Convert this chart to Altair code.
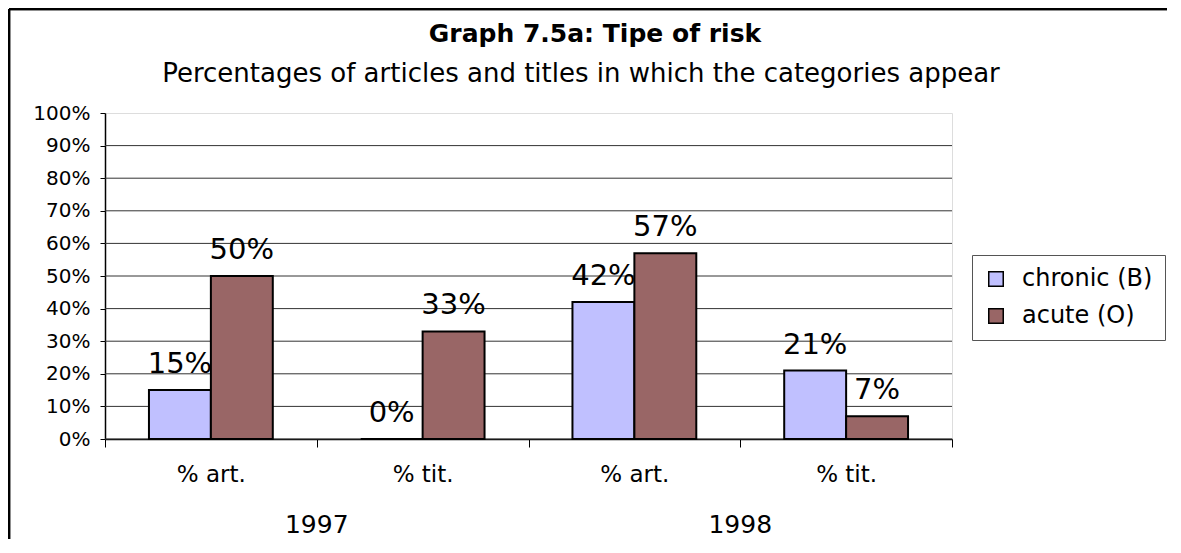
import altair as alt
import pandas as pd

# ---- data ----
categories = ["% art.", "% tit.", "% art.", "% tit."]
years = ["1997", "1997", "1998", "1998"]
chronic = [15, 0, 42, 21]
acute = [50, 33, 57, 7]
series = ["chronic (B)", "acute (O)"]
colors = ["#C0C0FF", "#996666"]
year_labels = ["1997", "1998"]
y_ticks = list(range(0, 101, 10))
title_text = "Graph 7.5a: Tipe of risk"
subtitle_text = "Percentages of articles and titles in which the categories appear"

keys = [f"{y}|{c}" for y, c in zip(years, categories)]
rows = []
for k, c, a in zip(keys, chronic, acute):
    rows.append({"key": k, "series": series[0], "value": c})
    rows.append({"key": k, "series": series[1], "value": a})
df = pd.DataFrame(rows)
df["label"] = df["value"].astype(str) + "%"

# year label sits on the boundary between the two categories of a year
year_df = pd.DataFrame({
    "key": [keys[1], keys[3]],
    "year": year_labels,
})
title_df = pd.DataFrame({"t": [title_text]})
subtitle_df = pd.DataFrame({"t": [subtitle_text]})
grid_df = pd.DataFrame({"v": y_ticks})

FONT = "DejaVu Sans"
W, H = 847, 326

xscale = alt.Scale(domain=keys, paddingInner=0, paddingOuter=0)
yscale = alt.Scale(domain=[0, 100], nice=False)
offscale = alt.Scale(domain=series, paddingInner=0, paddingOuter=0.71)

x_axis = alt.Axis(labelExpr="split(datum.label, '|')[1]",
                  tickBand="extent", tickSize=8, tickColor="black",
                  domainColor="black", domainWidth=1.5,
                  labelFont=FONT, labelFontSize=23, labelColor="black",
                  labelPadding=16, labelAngle=0, grid=False, title=None)
y_axis = alt.Axis(values=y_ticks, labelOverlap=False,
                  labelExpr="datum.value + '%'",
                  labelFont=FONT, labelFontSize=20, labelColor="black",
                  tickSize=5, tickColor="black", domainColor="black",
                  domainWidth=1.5, labelPadding=10, title=None,
                  grid=False)

# horizontal gridlines drawn from the tick values (top one is the grey frame)
grid = alt.Chart(grid_df).transform_filter("datum.v < 100").mark_rule(
    color="#333333", strokeWidth=1).encode(
    y=alt.Y("v:Q", scale=yscale, axis=y_axis))

base = alt.Chart(df)

bars = base.mark_bar(stroke="black", strokeWidth=2).encode(
    x=alt.X("key:N", scale=xscale, sort=keys, axis=x_axis),
    xOffset=alt.XOffset("series:N", scale=offscale, sort=series),
    y=alt.Y("value:Q", scale=yscale, axis=y_axis),
    color=alt.Color("series:N", sort=series,
                    scale=alt.Scale(domain=series, range=colors),
                    legend=alt.Legend(title=None, orient="none",
                                      legendX=867, legendY=142,
                                      labelFont=FONT, labelFontSize=24,
                                      labelColor="black",
                                      symbolType="square", symbolSize=210,
                                      symbolStrokeColor="black",
                                      symbolStrokeWidth=1.5,
                                      symbolOpacity=1,
                                      labelOffset=14, rowPadding=13,
                                      padding=12, strokeColor="#555555",
                                      fillColor="white")),
)

labels = base.mark_text(font=FONT, fontSize=29, color="black",
                        baseline="alphabetic", dy=-17).encode(
    x=alt.X("key:N", scale=xscale, sort=keys, axis=x_axis),
    xOffset=alt.XOffset("series:N", scale=offscale, sort=series),
    y=alt.Y("value:Q", scale=yscale, axis=y_axis),
    text="label:N",
)

year_text = alt.Chart(year_df).mark_text(font=FONT, fontSize=25, color="black",
                                          baseline="alphabetic").encode(
    x=alt.X("key:N", scale=xscale, sort=keys, bandPosition=0, axis=x_axis),
    y=alt.value(420),
    text="year:N",
)

title_mark = alt.Chart(title_df).mark_text(
    font=FONT, fontSize=25, fontWeight="bold", color="black",
    baseline="alphabetic", align="center").encode(
    x=alt.value(490), y=alt.value(-71), text="t:N")
subtitle_mark = alt.Chart(subtitle_df).mark_text(
    font=FONT, fontSize=26, color="black",
    baseline="alphabetic", align="center").encode(
    x=alt.value(476), y=alt.value(-31), text="t:N")

# outer frame of the picture (left and top edges)
frame_left = alt.Chart(year_df).mark_rule(color="black", strokeWidth=2.5).encode(
    x=alt.value(-96), y=alt.value(-104), y2=alt.value(H + 110))
frame_top = alt.Chart(year_df).mark_rule(color="black", strokeWidth=2.5).encode(
    x=alt.value(-96), x2=alt.value(W + 230), y=alt.value(-104))

chart = alt.layer(frame_left, frame_top, grid, bars, labels, year_text,
                  title_mark, subtitle_mark).properties(
    width=W, height=H,
    autosize=alt.AutoSizeParams(type="none"),
    padding={"left": 97, "top": 105, "right": 215, "bottom": 100},
).configure_view(stroke="#808080", strokeWidth=1.5).configure(background="white")

chart.save("out.html", embed_options={"renderer": "svg", "actions": False})
